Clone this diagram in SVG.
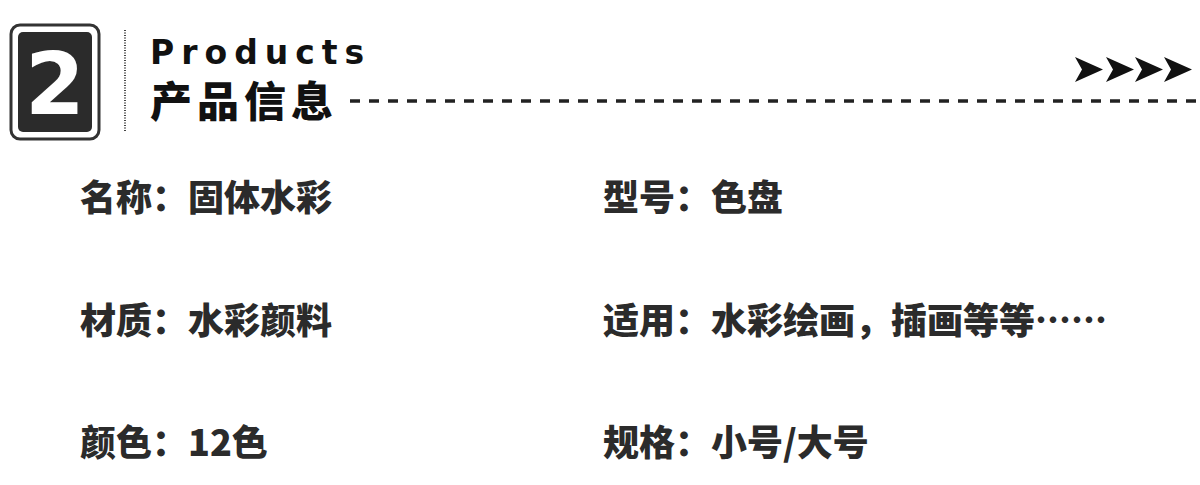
<svg xmlns="http://www.w3.org/2000/svg" width="1200" height="485" viewBox="0 0 1200 485">
<style>
.t{font-family:"Noto Sans CJK SC","Noto Sans",sans-serif;font-weight:900;font-size:36px;fill:#2b2b2b}
</style>
<defs>
<path id="ar" d="M0,0 L28,12.5 L0,25 L7,12.5 Z" fill="#111"/>
</defs>
<rect width="1200" height="485" fill="#fff"/>
<g id="badge">
<rect x="11" y="25" width="88" height="114" rx="9" fill="#fff" stroke="#333" stroke-width="3"/>
<rect x="18" y="32" width="74" height="100" rx="5" fill="#2b2b2b"/>
<text x="55" y="114" text-anchor="middle" style="font-family:'DejaVu Sans',sans-serif;font-weight:bold;font-size:86px;fill:#fff">2</text>
</g>
<line x1="125" y1="30" x2="125" y2="132" stroke="#444" stroke-width="2" stroke-dasharray="1,1.5"/>
<g id="title">
<text x="150" y="64" style="font-family:'DejaVu Sans',sans-serif;font-weight:bold;font-size:33px;letter-spacing:7px;fill:#111">Products</text>
<text x="150" y="117" style="font-family:'Noto Sans CJK SC',sans-serif;font-weight:900;font-size:42px;letter-spacing:5px;fill:#111">产品信息</text>
</g>
<g id="connectors">
<line x1="350" y1="101" x2="1196" y2="101" stroke="#222" stroke-width="3.5" stroke-dasharray="10,9"/>
<use href="#ar" x="1075" y="57"/>
<use href="#ar" x="1106" y="57"/>
<use href="#ar" x="1135" y="57"/>
<use href="#ar" x="1164" y="57"/>
</g>
<g id="r1l"><text class="t" x="80" y="211">名称：固体水彩</text></g>
<g id="r1r"><text class="t" x="603" y="211">型号：色盘</text></g>
<g id="r2l"><text class="t" x="80" y="334">材质：水彩颜料</text></g>
<g id="r2r"><text class="t" x="603" y="334">适用：水彩绘画，插画等等……</text></g>
<g id="r3l"><text class="t" x="80" y="456">颜色：12色</text></g>
<g id="r3r"><text class="t" x="603" y="456">规格：小号/大号</text></g>
</svg>
